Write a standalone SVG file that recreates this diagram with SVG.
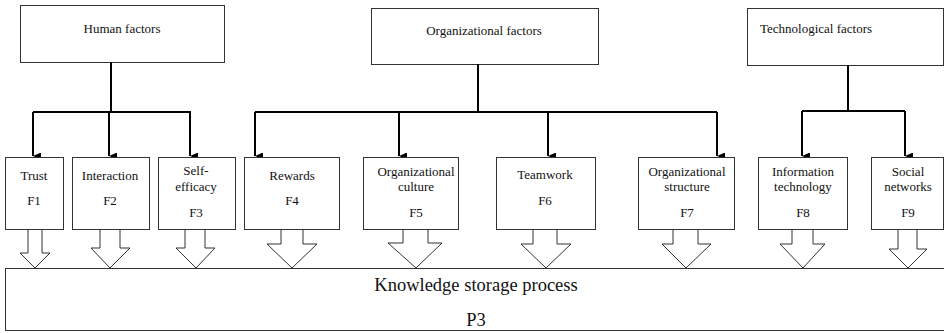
<svg xmlns="http://www.w3.org/2000/svg" width="944" height="333" viewBox="0 0 944 333">
  <defs>
    <style>
      .box { fill: #fff; stroke: #333; stroke-width: 1; }
      .barrow { fill: #fff; stroke: #333; stroke-width: 1; stroke-linejoin: miter; }
      .conn { fill: none; stroke: #000; stroke-width: 2; }
      .lbl { font-family: 'Liberation Serif', 'Times New Roman', serif; font-size: 13px; fill: #111; text-anchor: middle; }
      .big { font-family: 'Liberation Serif', 'Times New Roman', serif; font-size: 18.5px; fill: #111; text-anchor: middle; }
    </style>
    <marker id="tri" markerUnits="userSpaceOnUse" markerWidth="7" markerHeight="8" refX="3.5" refY="8" orient="auto-start-reverse" viewBox="0 0 7 8">
      <path d="M0,0 L7,0 L3.5,8 Z" fill="#000"/>
    </marker>
  </defs>

  <rect width="944" height="333" fill="#fff"/>

  <!-- category boxes -->
  <g id="human-factors">
    <rect class="box" x="20.5" y="5.5" width="204" height="57"/>
    <text class="lbl" x="122" y="33">Human factors</text>
  </g>
  <g id="organizational-factors">
    <rect class="box" x="371.5" y="8.5" width="227" height="56"/>
    <text class="lbl" x="484" y="35">Organizational factors</text>
  </g>
  <g id="technological-factors">
    <rect class="box" x="747.5" y="8.5" width="196" height="57"/>
    <text class="lbl" x="760" y="33" style="text-anchor:start">Technological factors</text>
  </g>

  <!-- tree connectors from categories to factors -->
  <g id="connectors">
    <path class="conn" d="M111,62 V112 M33,112 H191 M478,64 V112 M255,112 H717 M848,65 V111 M802,111 H905"/>
    <line class="conn" x1="33" y1="112" x2="33" y2="156" marker-end="url(#tri)"/>
    <line class="conn" x1="109" y1="112" x2="109" y2="156" marker-end="url(#tri)"/>
    <line class="conn" x1="190" y1="112" x2="190" y2="156" marker-end="url(#tri)"/>
    <line class="conn" x1="255" y1="112" x2="255" y2="156" marker-end="url(#tri)"/>
    <line class="conn" x1="399" y1="112" x2="399" y2="156" marker-end="url(#tri)"/>
    <line class="conn" x1="548" y1="112" x2="548" y2="156" marker-end="url(#tri)"/>
    <line class="conn" x1="717" y1="112" x2="717" y2="156" marker-end="url(#tri)"/>
    <line class="conn" x1="802" y1="111" x2="802" y2="156" marker-end="url(#tri)"/>
    <line class="conn" x1="905" y1="111" x2="905" y2="156" marker-end="url(#tri)"/>
  </g>

  <!-- process bar -->
  <g id="p3">
    <rect class="box" x="5.5" y="268.5" width="945" height="62"/>
    <text class="big" x="476" y="291">Knowledge storage process</text>
    <text class="big" x="476" y="326">P3</text>
  </g>

  <!-- block arrows into the process -->
  <g id="block-arrows">
    <polygon class="barrow" points="28,229 28,253 20,253 35,268 50,253 42,253 42,229"/>
    <polygon class="barrow" points="100,229 100,248 91,248 110,268 130,248 120,248 120,229"/>
    <polygon class="barrow" points="185,229 185,248 176,248 196,268 215,248 205,248 205,229"/>
    <polygon class="barrow" points="281,229 281,244 267,244 292,268 317,244 303,244 303,229"/>
    <polygon class="barrow" points="403,229 403,243 388,243 416,268 442,243 428,243 428,229"/>
    <polygon class="barrow" points="533,229 533,244 521,244 546,268 571,244 557,244 557,229"/>
    <polygon class="barrow" points="673,229 673,244 662,244 686,268 711,244 698,244 698,229"/>
    <polygon class="barrow" points="792,229 792,244 780,244 803,268 825,244 813,244 813,229"/>
    <polygon class="barrow" points="898,229 898,249 889,249 908,268 927,249 917,249 917,229"/>
  </g>

  <!-- factor boxes -->
  <g id="f1">
    <rect class="box" x="5.5" y="157.5" width="58" height="72"/>
    <text class="lbl" x="34" y="180">Trust</text>
    <text class="lbl" x="34" y="205">F1</text>
  </g>
  <g id="f2">
    <rect class="box" x="72.5" y="157.5" width="77" height="72"/>
    <text class="lbl" x="110" y="180">Interaction</text>
    <text class="lbl" x="110" y="205">F2</text>
  </g>
  <g id="f3">
    <rect class="box" x="158.5" y="157.5" width="77" height="72"/>
    <text class="lbl" x="196" y="175">Self-</text>
    <text class="lbl" x="196" y="191">efficacy</text>
    <text class="lbl" x="196" y="217">F3</text>
  </g>
  <g id="f4">
    <rect class="box" x="244.5" y="157.5" width="95" height="72"/>
    <text class="lbl" x="292" y="180">Rewards</text>
    <text class="lbl" x="292" y="205">F4</text>
  </g>
  <g id="f5">
    <rect class="box" x="363.5" y="157.5" width="95" height="72"/>
    <text class="lbl" x="416" y="176">Organizational</text>
    <text class="lbl" x="416" y="191">culture</text>
    <text class="lbl" x="416" y="217">F5</text>
  </g>
  <g id="f6">
    <rect class="box" x="496.5" y="157.5" width="99" height="72"/>
    <text class="lbl" x="545" y="179">Teamwork</text>
    <text class="lbl" x="545" y="205">F6</text>
  </g>
  <g id="f7">
    <rect class="box" x="638.5" y="157.5" width="96" height="72"/>
    <text class="lbl" x="687" y="176">Organizational</text>
    <text class="lbl" x="687" y="191">structure</text>
    <text class="lbl" x="687" y="217">F7</text>
  </g>
  <g id="f8">
    <rect class="box" x="758.5" y="157.5" width="89" height="72"/>
    <text class="lbl" x="803" y="176">Information</text>
    <text class="lbl" x="803" y="191">technology</text>
    <text class="lbl" x="803" y="217">F8</text>
  </g>
  <g id="f9">
    <rect class="box" x="871.5" y="157.5" width="72" height="72"/>
    <text class="lbl" x="908" y="176">Social</text>
    <text class="lbl" x="908" y="191">networks</text>
    <text class="lbl" x="908" y="217">F9</text>
  </g>
</svg>
